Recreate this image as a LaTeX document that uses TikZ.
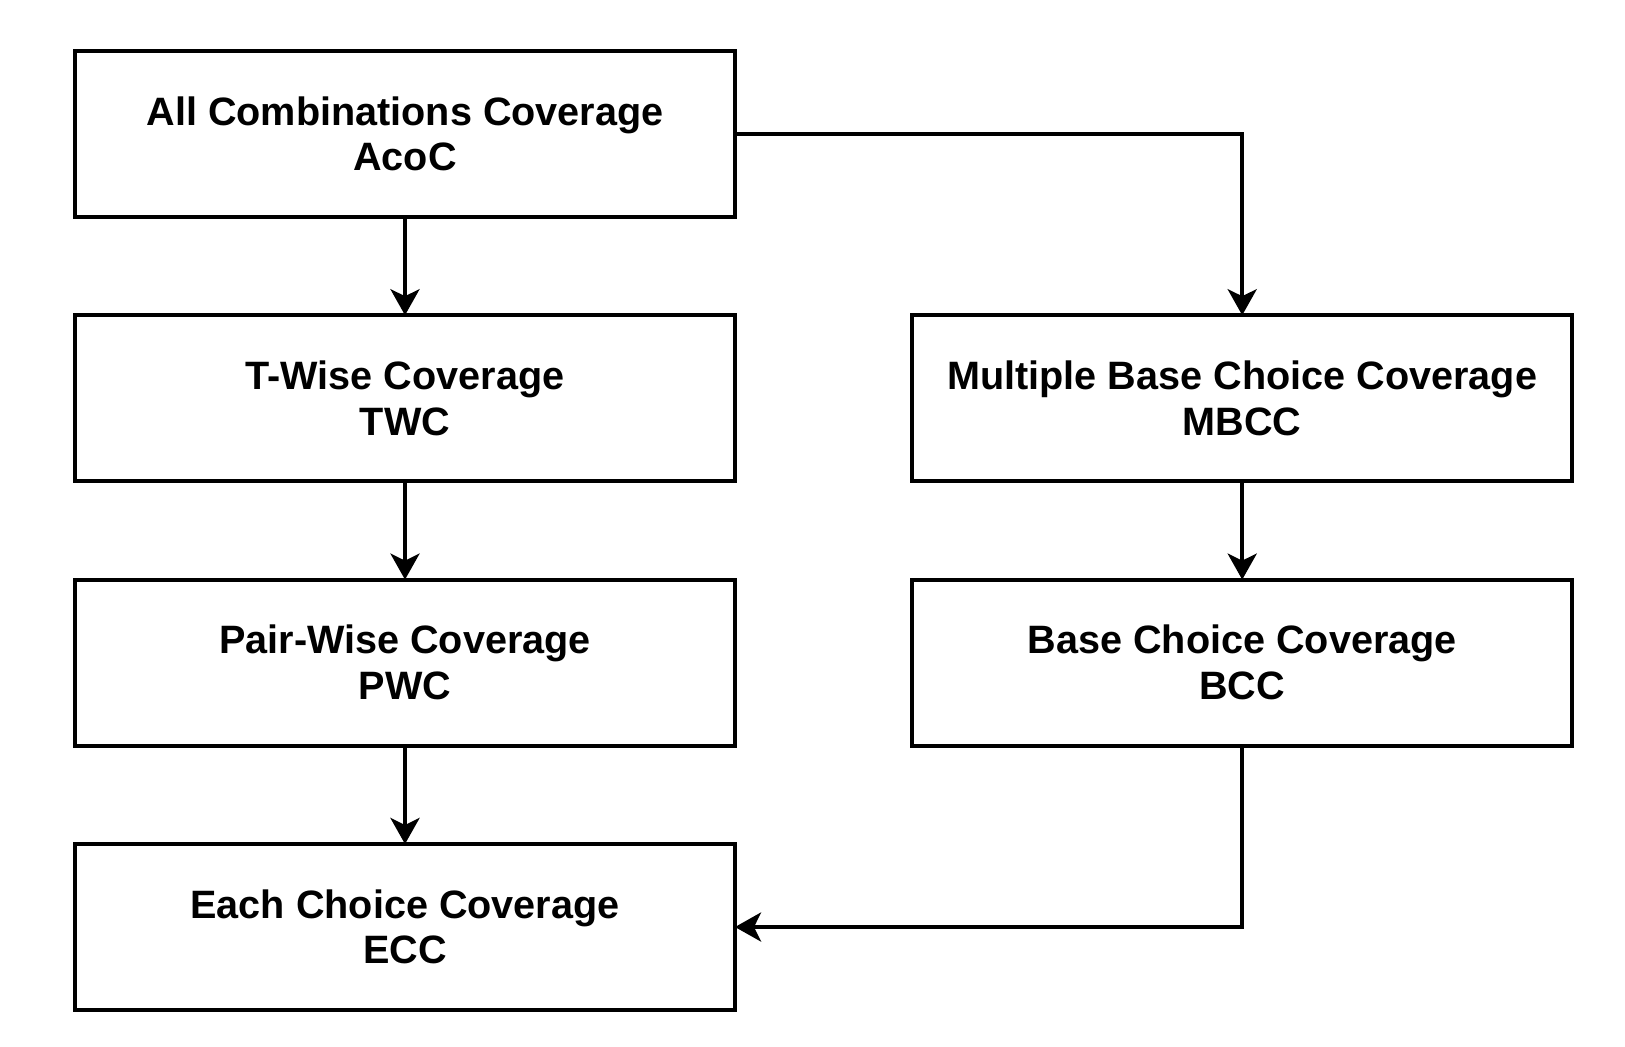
\documentclass[tikz,border=0pt]{standalone}
\usepackage{fontspec}
\setmainfont{Liberation Sans}
\usetikzlibrary{positioning}
\usetikzlibrary{arrows.meta}

\begin{document}
\begin{tikzpicture}[node distance=49.2pt and 88.6pt,
    box/.style={draw, line width=2pt, rectangle, outer sep=0pt, minimum width=330pt, minimum height=83pt,
        align=center, font=\fontsize{19.8}{22.8}\selectfont\bfseries},
    arr/.style={draw, line width=2pt, -{Stealth[length=13pt, width=14.5pt, inset=3.5pt]}}]
    \useasboundingbox (0,0) rectangle (812.5pt,-523pt);
    \node[box] (acoc) at (202.5pt,-66.9pt) {All Combinations Coverage\\AcoC};
    \node[box, below=of acoc] (twc) {T-Wise Coverage\\TWC};
    \node[box, below=of twc] (pwc) {Pair-Wise Coverage\\PWC};
    \node[box, below=of pwc] (ecc) {Each Choice Coverage\\ECC};
    \node[box, right=of twc] (mbcc) {Multiple Base Choice Coverage\\MBCC};
    \node[box, below=of mbcc] (bcc) {Base Choice Coverage\\BCC};
    \draw[arr] (acoc) -- (twc);
    \draw[arr] (twc) -- (pwc);
    \draw[arr] (pwc) -- (ecc);
    \draw[arr] (acoc.east) -| (mbcc);
    \draw[arr] (mbcc) -- (bcc);
    \draw[arr] (bcc) |- (ecc);
\end{tikzpicture}
\end{document}
